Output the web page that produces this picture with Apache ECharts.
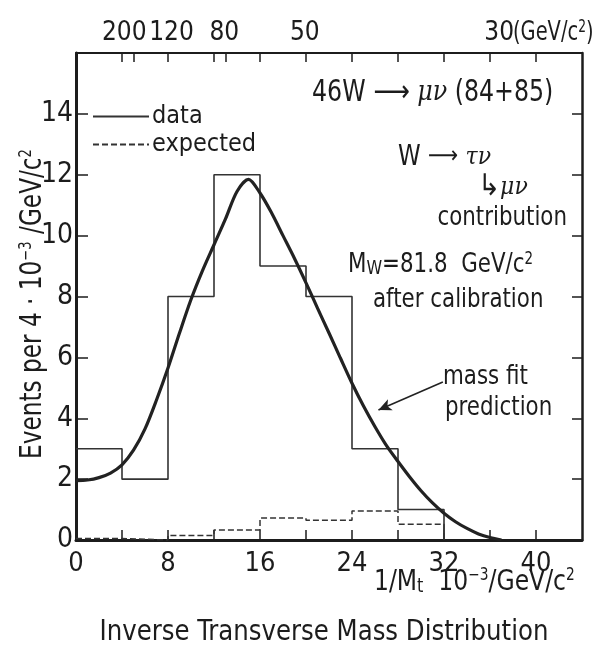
<!DOCTYPE html>
<html>
<head>
<meta charset="utf-8">
<script src="https://cdn.jsdelivr.net/npm/echarts@6/dist/echarts.min.js"></script>
<style>
  html, body { margin: 0; padding: 0; background: #ffffff; }
  #chart { width: 601px; height: 650px; }
</style>
</head>
<body>
<div id="chart"></div>
<script>
// Histogram bins (1/Mt in units of 10^-3 /GeV/c^2)
const binEdges = [0, 4, 8, 12, 16, 20, 24, 28, 32];
const dataCounts = [3, 2, 8, 12, 9, 8, 3, 1];
const expectedCounts = [0.05, 0, 0.15, 0.33, 0.72, 0.65, 0.95, 0.52];

// Mass fit prediction curve
const fitX = [0, 1, 2, 3, 4, 5, 6, 7, 8, 9, 10, 11, 12, 13, 14, 15, 16, 17, 18, 19, 20,
              21, 22, 23, 24, 25, 26, 27, 28, 29, 30, 31, 32, 33, 34, 35, 36, 37];
const fitY = [1.95, 1.97, 2.05, 2.2, 2.47, 2.95, 3.65, 4.6, 5.65, 6.8, 7.9, 8.85, 9.7, 10.55, 11.45, 11.85, 11.4, 10.75, 10.0, 9.25, 8.45,
              7.62, 6.8, 5.97, 5.15, 4.4, 3.72, 3.1, 2.58, 2.08, 1.62, 1.22, 0.88, 0.6, 0.38, 0.2, 0.08, 0.0];

// Upper scale: transverse mass in GeV/c^2, placed along the 1/Mt axis
const topMassLabels = ['200', '120', '80', '50', '30'];
const topLabelPos = [4.2, 8.3, 12.9, 19.9, 36.8];
const topTickPos = [4, 5, 8, 12, 13, 16, 20, 24, 28, 32, 36, 40];

const FONT = '"DejaVu Sans Condensed", "Liberation Sans Narrow", sans-serif';
const INK = '#1c1c1c';

function stepPoints(edges, values) {
  const pts = values.map((v, i) => [edges[i], v]);
  const last = values.length - 1;
  pts.push([edges[last + 1], values[last]]);
  pts.push([edges[last + 1], 0]);
  return pts;
}

const topLabelMap = {};
topLabelPos.forEach((p, i) => { topLabelMap[String(p)] = topMassLabels[i]; });

const chart = echarts.init(document.getElementById('chart'), null, { renderer: 'canvas' });

// Annotation text, horizontally condensed around its anchor point
function txt(x, y, text, opts) {
  opts = opts || {};
  const st = opts.style || {};
  return {
    type: 'text', x: x, y: y, z: 10,
    rotation: opts.rotation || 0,
    scaleX: opts.sx || 0.88, scaleY: 1,
    style: Object.assign({
      text: text, fill: INK, fontFamily: FONT, fontSize: 27,
      align: 'left', verticalAlign: 'middle',
      rich: {
        sup: { fontFamily: FONT, fontSize: 17, verticalAlign: 'top', fill: INK },
        sub: { fontFamily: FONT, fontSize: 20, verticalAlign: 'bottom', fill: INK },
        g: { fontFamily: '"DejaVu Serif", serif', fontStyle: 'italic', fontSize: opts.gs || 25, fill: INK },
        ar: { fontFamily: '"DejaVu Sans", sans-serif', fontSize: opts.as || 24, fill: INK },
        hk: { fontFamily: '"DejaVu Sans", sans-serif', fontSize: 30, fill: INK }
      }
    }, st)
  };
}

const option = {
  backgroundColor: '#ffffff',
  animation: false,
  grid: { left: 76, top: 53, width: 506, height: 487, show: false },
  legend: {
    data: ['data', 'expected'],
    orient: 'vertical',
    left: 87,
    top: 99,
    itemWidth: 56,
    itemHeight: 12,
    itemGap: 3,
    itemStyle: { opacity: 0 },
    textStyle: { fontFamily: FONT, fontSize: 25, color: INK, padding: [0, 0, 0, -2] }
  },
  xAxis: [
    {
      type: 'value', min: 0, max: 44, interval: 4, position: 'bottom',
      axisLine: { show: true, onZero: false, lineStyle: { color: INK, width: 3 } },
      axisTick: { show: true, inside: true, length: 10, lineStyle: { color: INK, width: 1.5 } },
      axisLabel: {
        show: true, margin: 10, fontFamily: FONT, fontSize: 27, color: INK,
        showMaxLabel: false,
        formatter: v => (v % 8 === 0 ? String(v) : '')
      },
      splitLine: { show: false }
    },
    {
      type: 'value', min: 0, max: 44, position: 'top',
      axisLine: { show: true, onZero: false, lineStyle: { color: INK, width: 2 } },
      axisTick: { show: true, inside: true, length: 9, customValues: topTickPos, lineStyle: { color: INK, width: 1.5 } },
      axisLabel: {
        show: true, margin: 7, fontFamily: FONT, fontSize: 26, color: INK,
        showMinLabel: true, showMaxLabel: true,
        customValues: topLabelPos,
        formatter: v => topLabelMap[String(v)] || ''
      },
      splitLine: { show: false }
    }
  ],
  yAxis: [
    {
      type: 'value', min: 0, max: 16, interval: 2, position: 'left',
      axisLine: { show: true, onZero: false, lineStyle: { color: INK, width: 3 } },
      axisTick: { show: true, inside: true, length: 12, lineStyle: { color: INK, width: 1.5 } },
      axisLabel: {
        show: true, margin: 3, fontFamily: FONT, fontSize: 28, color: INK,
        showMaxLabel: false
      },
      splitLine: { show: false }
    },
    {
      type: 'value', min: 0, max: 16, interval: 2, position: 'right',
      axisLine: { show: true, onZero: false, lineStyle: { color: INK, width: 2.5 } },
      axisTick: { show: true, inside: true, length: 10, lineStyle: { color: INK, width: 1.5 } },
      axisLabel: { show: false },
      splitLine: { show: false }
    }
  ],
  series: [
    {
      name: 'data', type: 'line', step: 'end', symbol: 'none',
      data: stepPoints(binEdges, dataCounts),
      lineStyle: { color: '#333333', width: 1.6 },
      itemStyle: { color: '#333333' },
      z: 3
    },
    {
      name: 'expected', type: 'line', step: 'end', symbol: 'none',
      data: stepPoints(binEdges, expectedCounts),
      lineStyle: { color: '#333333', width: 1.5, type: [6, 3] },
      itemStyle: { color: '#333333' },
      z: 3
    },
    {
      name: 'mass fit prediction', type: 'line', smooth: 0.3, symbol: 'none',
      data: fitX.map((x, i) => [x, fitY[i]]),
      lineStyle: { color: '#222222', width: 3.2 },
      z: 4,
      markLine: {
        silent: true,
        symbol: ['none', 'arrow'],
        symbolSize: [9, 13],
        label: { show: false },
        lineStyle: { color: '#222222', width: 1.6, type: 'solid' },
        data: [[{ coord: [31.9, 5.19] }, { coord: [26.3, 4.27] }]]
      }
    }
  ],
  graphic: [
    txt(513, 33, '(GeV/c{sup|2})', { sx: 0.8, style: { fontSize: 27 } }),
    txt(312, 93, '46W {ar|⟶} {g|μν} (84+85)', { sx: 0.85, gs: 28, as: 30, style: { fontSize: 31 } }),
    txt(398, 157, 'W {ar|⟶} {g|τν}', { style: { fontSize: 29 } }),
    txt(478, 187, '{hk|↳}{g|μν}'),
    txt(567, 218, 'contribution', { style: { align: 'right' } }),
    txt(348, 265, 'M{sub|W}=81.8  GeV/c{sup|2}'),
    txt(373, 300, 'after calibration'),
    txt(443, 377, 'mass fit'),
    txt(445, 408, 'prediction'),
    txt(374, 582, '1/M{sub|t}  10{sup|−3}/GeV/c{sup|2}', { sx: 0.9, style: { fontSize: 29 } }),
    txt(324, 633, 'Inverse Transverse Mass Distribution', { sx: 0.97, style: { align: 'center', fontSize: 28 } }),
    txt(33, 304, 'Events per 4 · 10{sup|−3} /GeV/c{sup|2}', { rotation: Math.PI / 2, sx: 0.86, style: { align: 'center', fontSize: 30 } })
  ]
};

chart.setOption(option);
</script>
</body>
</html>
